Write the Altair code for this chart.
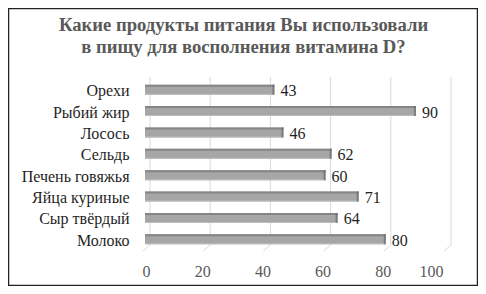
import altair as alt
import pandas as pd

categories = ["Орехи", "Рыбий жир", "Лосось", "Сельдь", "Печень говяжья\u00a0",
              "Яйца куриные", "Сыр твёрдый", "Молоко"]
values = [43, 90, 46, 62, 60, 71, 64, 80]
ticks = [0, 20, 40, 60, 80, 100]
title_lines = ["Какие продукты питания Вы использовали", "в пищу для восполнения витамина D?"]

df = pd.DataFrame({"cat": categories, "val": values})
tdf = pd.DataFrame({"v": ticks})
ttl = pd.DataFrame({"t": ["\n".join(title_lines)]})
one = pd.DataFrame({"a": [0]})

FONT = "Liberation Serif"
W, H = 301, 171

xscale = alt.Scale(domain=[0, 100], nice=False, zero=True)
xenc = alt.X("val:Q", scale=xscale,
             axis=alt.Axis(values=ticks, grid=False, domain=False, ticks=False,
                           labelFont=FONT, labelFontSize=16, labelColor="#595959",
                           labelPadding=13, labelOffset=-3, title=None))
yenc = alt.Y("cat:N", sort=categories,
             scale=alt.Scale(paddingInner=0, paddingOuter=0),
             axis=alt.Axis(domain=False, ticks=False, labelFont=FONT, labelFontSize=16,
                           labelColor="#1f1f1f", labelPadding=16, title=None,
                           labelOffset=1.5))

grid_v = alt.Chart(tdf).mark_rule(color="#d9d9d9", strokeWidth=1, xOffset=5).encode(
    x=alt.X("v:Q", scale=xscale), y=alt.value(-2), y2=alt.value(166))
grid_d = alt.Chart(tdf).mark_rule(color="#d9d9d9", strokeWidth=1, xOffset=5, x2Offset=-2).encode(
    x=alt.X("v:Q", scale=xscale), x2="v:Q", y=alt.value(166), y2=alt.value(172))

base = alt.Chart(df)
ysub = alt.Y("cat:N", sort=categories)
bars = base.mark_bar(color="#a6a6a6", size=10).encode(x=xenc, y=yenc)
bars_bottom = base.mark_bar(color="#bdbdbd", size=1, yOffset=4.5).encode(x="val:Q", y=ysub)
bars_top = base.mark_bar(color="#858585", size=2, yOffset=-4).encode(x="val:Q", y=ysub)
caps = base.mark_tick(color="#6a6a6a", thickness=2, size=10, xOffset=-1).encode(x="val:Q", y=ysub)
labels = base.mark_text(font=FONT, fontSize=16, color="#1f1f1f", align="left", dx=6, dy=1.5,
                        baseline="middle").encode(x="val:Q", y=ysub, text="val:Q")

title = alt.Chart(ttl).mark_text(font=FONT, fontSize=18.67, fontWeight="bold", color="#595959",
                                 align="center", baseline="alphabetic", lineBreak="\n",
                                 lineHeight=22).encode(
    x=alt.value(98.5), y=alt.value(-48), text="t:N")

border = alt.Chart(one).mark_rect(fill=None, stroke="#222222", strokeWidth=1.5).encode(
    x=alt.value(-136.5), x2=alt.value(332.5), y=alt.value(-70.5), y2=alt.value(206.5))

chart = alt.layer(grid_v, grid_d, bars, bars_bottom, bars_top, caps, labels, title, border).properties(
    width=W, height=H,
    autosize=alt.AutoSizeParams(type="none"),
    padding={"left": 137, "top": 71, "right": 32, "bottom": 36},
    background="white",
).configure_view(stroke=None)

chart.save("out.html", embed_options={"renderer": "svg", "actions": False})
